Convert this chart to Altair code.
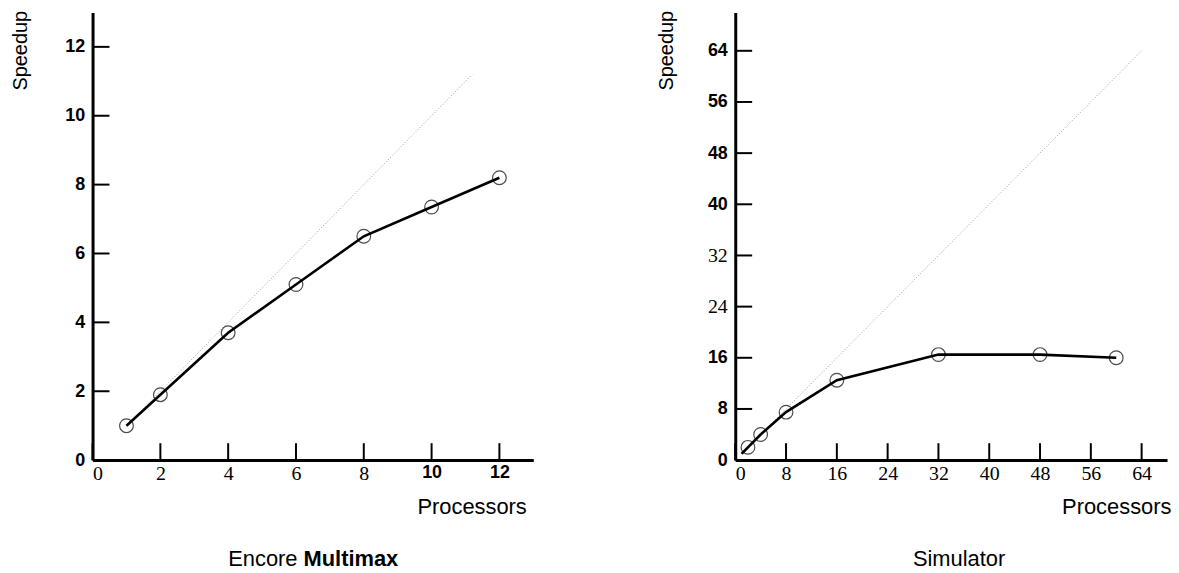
import altair as alt
import pandas as pd

# ---- data ----
enc_procs = [1, 2, 4, 6, 8, 10, 12]
enc_speed = [1.0, 1.9, 3.7, 5.1, 6.5, 7.35, 8.2]
enc_marked = [True, True, True, True, True, True, True]
enc_ideal = [1, 11.2]
enc_xticks = [0, 2, 4, 6, 8, 10, 12]
enc_yticks = [0, 2, 4, 6, 8, 10, 12]
enc_caption = ["Encore ", "Multimax"]

sim_procs = [1, 2, 4, 8, 16, 32, 48, 60]
sim_speed = [1.0, 2.0, 4.0, 7.5, 12.5, 16.5, 16.5, 16.0]
sim_marked = [False, True, True, True, True, True, True, True]
sim_ideal = [1, 64]
sim_xticks = [0, 8, 16, 24, 32, 40, 48, 56, 64]
sim_yticks = [0, 8, 16, 24, 32, 40, 48, 56, 64]
sim_caption = ["Simulator"]

SANS = "Liberation Sans"
SERIF = "Liberation Serif"


def cond(test, a, b):
    return {"condition": {"test": test, "value": a}, "value": b}


def panel(procs, speed, marked, ideal, xticks, yticks, xdom, ydom, w, h,
          xbold, ybold, ytitle_x, proc_x, caption, cap_x):
    df = pd.DataFrame({"p": procs, "s": speed, "m": marked})
    pts = df[df["m"]]
    ideal_df = pd.DataFrame({"p": ideal, "s": ideal})
    xt = pd.DataFrame({"p": xticks})
    yt = pd.DataFrame({"s": yticks})

    xs = alt.Scale(domain=xdom, nice=False, zero=False)
    ys = alt.Scale(domain=ydom, nice=False, zero=False)

    xaxis = alt.Axis(
        values=xticks, grid=False, ticks=False, tickSize=0,
        domainWidth=3, domainColor="black", labelPadding=3,
        labelFont=cond(xbold, SANS, SERIF),
        labelFontSize=cond(xbold, 18, 20),
        labelFontWeight=cond(xbold, "bold", "normal"),
        labelColor="black", labelBaseline="top",
        title="Processors", titleX=proc_x, titleY=47,
        titleAlign="right", titleBaseline="middle",
        titleFont=SANS, titleFontSize=22, titleFontWeight="normal",
        titleColor="black",
    )
    yaxis = alt.Axis(
        values=yticks, grid=False, ticks=False, tickSize=0,
        domainWidth=3, domainColor="black", labelPadding=8,
        labelFont=cond(ybold, SANS, SERIF),
        labelFontSize=cond(ybold, 18, 20),
        labelFontWeight=cond(ybold, "bold", "normal"),
        labelColor="black",
        title="Speedup", titleX=ytitle_x, titleY=38, titleAngle=270,
        titleAlign="center", titleBaseline="middle",
        titleFont=SANS, titleFontSize=20, titleFontWeight="normal",
        titleColor="black",
    )
    X = alt.X("p:Q", scale=xs, axis=xaxis)
    Y = alt.Y("s:Q", scale=ys, axis=yaxis)

    ideal_layer = alt.Chart(ideal_df).mark_line(
        color="#999999", strokeWidth=1, strokeDash=[1, 2]
    ).encode(x=X, y=Y)
    line = alt.Chart(df).mark_line(color="black", strokeWidth=2.6).encode(x=X, y=Y)
    points = alt.Chart(pts).mark_point(
        shape="circle", filled=False, size=190, color="black", strokeWidth=1.2
    ).encode(x=X, y=Y)
    xtick_layer = alt.Chart(xt).mark_rule(color="black", strokeWidth=2).encode(
        x=X, y=alt.value(h), y2=alt.value(h - 17),
    )
    ytick_layer = alt.Chart(yt).mark_rule(color="black", strokeWidth=2).encode(
        y=Y, x=alt.value(0), x2=alt.value(17),
    )
    layers = [ideal_layer, line, points, xtick_layer, ytick_layer]

    cap_y = h + 99
    if len(caption) == 2:
        layers.append(
            alt.Chart(pd.DataFrame({"t": [caption[0]]})).mark_text(
                font=SANS, fontSize=22, align="right", baseline="middle", color="black"
            ).encode(text="t:N", x=alt.value(cap_x - 3), y=alt.value(cap_y))
        )
        layers.append(
            alt.Chart(pd.DataFrame({"t": [caption[1]]})).mark_text(
                font=SANS, fontSize=22, fontWeight="bold", align="left",
                baseline="middle", color="black"
            ).encode(text="t:N", x=alt.value(cap_x + 3), y=alt.value(cap_y))
        )
    else:
        layers.append(
            alt.Chart(pd.DataFrame({"t": caption})).mark_text(
                font=SANS, fontSize=22, align="center", baseline="middle", color="black"
            ).encode(text="t:N", x=alt.value(cap_x), y=alt.value(cap_y))
        )
    return alt.layer(*layers).properties(width=w, height=h)


left = panel(enc_procs, enc_speed, enc_marked, enc_ideal, enc_xticks, enc_yticks,
             [0, 13], [0, 13], 443, 450,
             "datum.value >= 10", "true", -72, 436, enc_caption, 209)
right = panel(sim_procs, sim_speed, sim_marked, sim_ideal, sim_xticks, sim_yticks,
              [0, 68], [0, 70], 434, 450,
              "false", "datum.value != 24 && datum.value != 32", -69, 438,
              sim_caption, 225)

chart = alt.hconcat(left, right, spacing=123).properties(
    padding={"left": 3, "top": 0, "right": 0, "bottom": 0}
).configure(font=SANS, background="white").configure_view(stroke=None)

chart.save("out.html", embed_options={"renderer": "svg", "actions": False})
